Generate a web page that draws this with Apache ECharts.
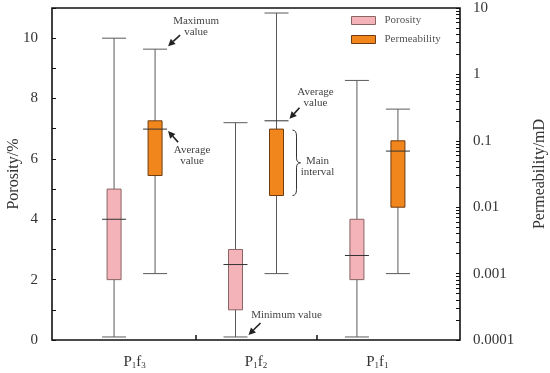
<!DOCTYPE html>
<html>
<head>
<meta charset="utf-8">
<script src="https://cdn.jsdelivr.net/npm/echarts@6/dist/echarts.min.js"></script>
<style>
html,body{margin:0;padding:0;background:#fff;}
#chart{width:550px;height:373px;}
</style>
</head>
<body>
<div id="chart"></div>
<script>
// ---- data ----
const categories = ['P1f3', 'P1f2', 'P1f1'];
const catPositions = [1, 2, 3];
const porosityMin  = [0.1, 0.1, 0.1];
const porosityQ1   = [2.0, 1.0, 2.0];
const porosityQ3   = [5.0, 3.0, 4.0];
const porosityMax  = [10.0, 7.2, 8.6];
const porosityMean = [4.0, 2.5, 2.8];
const permMin  = [0.001, 0.001, 0.001];
const permQ1   = [0.03, 0.015, 0.01];
const permQ3   = [0.2, 0.15, 0.1];
const permMax  = [2.4, 8.4, 0.3];
const permMean = [0.15, 0.2, 0.07];
const porosityTicks = [0, 2, 4, 6, 8, 10];
const permTicks = [0.0001, 0.001, 0.01, 0.1, 1, 10];

// ---- build ----
const SERIF = '"Liberation Serif", "DejaVu Serif", serif';
const PINK = '#f4b3b8', PINK_B = '#8a6464';
const ORANGE = '#f0861c', ORANGE_B = '#6e3c10';
const BOX_W = 14, CAP_W = 24, OFF = 20.5;

const porosityData = catPositions.map((c, i) => [c, porosityMin[i], porosityQ1[i], porosityQ3[i], porosityMax[i], porosityMean[i]]);
const permData = catPositions.map((c, i) => [c, permMin[i], permQ1[i], permQ3[i], permMax[i], permMean[i]]);

const permMinorTicks = [];
for (let d = 0; d < permTicks.length; d++) {
  const base = permTicks[d];
  const n = d === permTicks.length - 1 ? 1 : 9;
  for (let k = 1; k <= n; k++) permMinorTicks.push(+(base * k).toPrecision(2));
}

function makeRender(offset, fill, stroke) {
  return function (params, api) {
    const c = api.value(0);
    const pMin = api.coord([c, api.value(1)]);
    const pQ1 = api.coord([c, api.value(2)]);
    const pQ3 = api.coord([c, api.value(3)]);
    const pMax = api.coord([c, api.value(4)]);
    const pMean = api.coord([c, api.value(5)]);
    const x = pMin[0] + offset;
    const lineStyle = { stroke: '#5a5a5a', lineWidth: 1 };
    return {
      type: 'group',
      children: [
        { type: 'line', shape: { x1: x, y1: pMin[1], x2: x, y2: pMax[1] }, style: lineStyle },
        { type: 'line', shape: { x1: x - CAP_W / 2, y1: pMin[1], x2: x + CAP_W / 2, y2: pMin[1] }, style: lineStyle },
        { type: 'line', shape: { x1: x - CAP_W / 2, y1: pMax[1], x2: x + CAP_W / 2, y2: pMax[1] }, style: lineStyle },
        { type: 'rect', shape: { x: x - BOX_W / 2, y: pQ3[1], width: BOX_W, height: pQ1[1] - pQ3[1] },
          style: { fill: fill, stroke: stroke, lineWidth: 1 } },
        { type: 'line', shape: { x1: x - CAP_W / 2, y1: pMean[1], x2: x + CAP_W / 2, y2: pMean[1] },
          style: { stroke: '#333', lineWidth: 1 } }
      ]
    };
  };
}

const chart = echarts.init(document.getElementById('chart'), null, { renderer: 'canvas' });
const option = {
  animation: false,
  backgroundColor: '#fff',
  grid: { left: 52, right: 90, top: 8, bottom: 33, show: true, borderColor: '#111', borderWidth: 1.6,
    backgroundColor: 'transparent', containLabel: false, outerBoundsMode: 'none' },
  legend: {
    orient: 'vertical', left: 346, top: 10, itemWidth: 24, itemHeight: 8, itemGap: 8, icon: 'rect',
    textStyle: { fontFamily: SERIF, fontSize: 11, color: '#555', padding: [0, 0, 0, 4] },
    data: [
      { name: 'Porosity', itemStyle: { color: PINK, borderColor: PINK_B, borderWidth: 1 } },
      { name: 'Permeability', itemStyle: { color: ORANGE, borderColor: ORANGE_B, borderWidth: 1 } }
    ]
  },
  xAxis: {
    type: 'value', min: 0.32, max: 3.68,
    axisLine: { show: false },
    splitLine: { show: false },
    axisTick: { show: true, inside: true, length: 5, customValues: [1.5, 2.5], lineStyle: { color: '#111', width: 1.5 } },
    axisLabel: {
      customValues: catPositions, margin: 12,
      formatter: function (v) {
        const i = catPositions.indexOf(Math.round(v));
        const s = categories[i] || '';
        return '{n|' + s[0] + '}{s|' + s[1] + '}{n|' + s[2] + '}{s|' + s[3] + '}';
      },
      rich: {
        n: { fontFamily: SERIF, fontSize: 15, color: '#333', lineHeight: 18, verticalAlign: 'bottom' },
        s: { fontFamily: SERIF, fontSize: 9, color: '#333', lineHeight: 18, verticalAlign: 'bottom', padding: [6, 0, 0, 0] }
      }
    }
  },
  yAxis: [
    {
      type: 'value', min: 0, max: 11, interval: 1,
      name: 'Porosity/%', nameLocation: 'middle', nameGap: 30, nameRotate: 90, nameMoveOverlap: false,
      nameTextStyle: { fontFamily: SERIF, fontSize: 16, color: '#333' },
      axisLine: { show: false },
      splitLine: { show: false },
      axisTick: { show: true, inside: true, length: 4, lineStyle: { color: '#111', width: 1 } },
      axisLabel: {
        margin: 14, fontFamily: SERIF, fontSize: 15, color: '#333',
        formatter: function (v) { return porosityTicks.indexOf(v) >= 0 ? String(v) : ''; }
      }
    },
    {
      type: 'log', logBase: 10, min: permTicks[0], max: permTicks[permTicks.length - 1], position: 'right',
      name: 'Permeability/mD', nameLocation: 'middle', nameGap: 72, nameRotate: 90, nameMoveOverlap: false,
      nameTextStyle: { fontFamily: SERIF, fontSize: 16, color: '#333' },
      axisLine: { show: false },
      splitLine: { show: false },
      axisTick: { show: true, inside: true, length: 4, customValues: permMinorTicks, lineStyle: { color: '#111', width: 1 } },
      axisLabel: {
        margin: 13, fontFamily: SERIF, fontSize: 15, color: '#333',
        customValues: permTicks,
        formatter: function (v) { return String(+Number(v).toPrecision(1)); }
      }
    }
  ],
  series: [
    { name: 'Porosity', type: 'custom', xAxisIndex: 0, yAxisIndex: 0, data: porosityData,
      itemStyle: { color: PINK, borderColor: PINK_B }, encode: { x: 0, y: [1, 2, 3, 4, 5] },
      renderItem: makeRender(-OFF, PINK, PINK_B), z: 3 },
    { name: 'Permeability', type: 'custom', xAxisIndex: 0, yAxisIndex: 1, data: permData,
      itemStyle: { color: ORANGE, borderColor: ORANGE_B }, encode: { x: 0, y: [1, 2, 3, 4, 5] },
      renderItem: makeRender(OFF, ORANGE, ORANGE_B), z: 3 }
  ]
};
chart.setOption(option);

// ---- annotations anchored to data via the chart's scales ----
function px(seriesAxis, cat, v) {
  return chart.convertToPixel({ xAxisIndex: 0, yAxisIndex: seriesAxis }, [cat, v]);
}
const TXT = { fontFamily: SERIF, fontSize: 11, fill: '#444', align: 'center', lineHeight: 11 };
function arrow(x1, y1, x2, y2) {
  const ang = Math.atan2(y2 - y1, x2 - x1), L = 7, W = 3.5;
  const bx = x2 - L * Math.cos(ang), by = y2 - L * Math.sin(ang);
  const nx = -Math.sin(ang), ny = Math.cos(ang);
  return [
    { type: 'line', shape: { x1: x1, y1: y1, x2: bx, y2: by }, style: { stroke: '#222', lineWidth: 1.6 } },
    { type: 'polygon', shape: { points: [[x2, y2], [bx + nx * W, by + ny * W], [bx - nx * W, by - ny * W]] }, style: { fill: '#222' } }
  ];
}
function text(x, y, s) {
  return { type: 'text', x: x, y: y, style: Object.assign({ text: s, verticalAlign: 'top' }, TXT) };
}
function curve(x1, y1, cx, cy, x2, y2) {
  return { type: 'bezierCurve', shape: { x1: x1, y1: y1, x2: x2, y2: y2, cpx1: cx, cpy1: cy }, style: { stroke: '#333', lineWidth: 1, fill: null } };
}
function seg(x1, y1, x2, y2) {
  return { type: 'line', shape: { x1: x1, y1: y1, x2: x2, y2: y2 }, style: { stroke: '#333', lineWidth: 1 } };
}
const g = [];
// Maximum value (P1f3 permeability max)
let p = px(1, catPositions[0], permMax[0]);
let cx = p[0] + OFF + CAP_W / 2;
g.push(...arrow(cx + 13, p[1] - 14, cx + 1, p[1] - 3));
g.push(text(cx + 29, p[1] - 34, 'Maximum\nvalue'));
// Average value (P1f3 permeability mean)
p = px(1, catPositions[0], permMean[0]);
cx = p[0] + OFF + CAP_W / 2;
g.push(...arrow(cx + 11, p[1] + 13, cx + 1, p[1] + 2));
g.push(text(cx + 25, p[1] + 16, 'Average\nvalue'));
// Average value (P1f2 permeability mean)
p = px(1, catPositions[1], permMean[1]);
cx = p[0] + OFF + CAP_W / 2;
g.push(...arrow(cx + 11, p[1] - 13, cx + 1, p[1] - 2));
g.push(text(cx + 27, p[1] - 34, 'Average\nvalue'));
// Main interval brace (P1f2 permeability box)
const pt = px(1, catPositions[1], permQ3[1]);
const pb = px(1, catPositions[1], permQ1[1]);
const bx0 = pt[0] + OFF + 16, ytop = pt[1] + 1, ybot = pb[1], ym = (ytop + ybot) / 2;
g.push(curve(bx0, ytop, bx0 + 4, ytop, bx0 + 4, ytop + 6));
g.push(seg(bx0 + 4, ytop + 6, bx0 + 4, ym - 5));
g.push(curve(bx0 + 4, ym - 5, bx0 + 4, ym, bx0 + 8, ym));
g.push(curve(bx0 + 8, ym, bx0 + 4, ym, bx0 + 4, ym + 5));
g.push(seg(bx0 + 4, ym + 5, bx0 + 4, ybot - 6));
g.push(curve(bx0 + 4, ybot - 6, bx0 + 4, ybot, bx0, ybot));
g.push(text(bx0 + 25, ym - 7, 'Main\ninterval'));
// Minimum value (P1f2 porosity min)
p = px(0, catPositions[1], porosityMin[1]);
cx = p[0] - OFF + CAP_W / 2;
g.push(...arrow(cx + 13, p[1] - 14, cx + 1, p[1] - 2));
g.push(text(cx + 39, p[1] - 27, 'Minimum value'));
chart.setOption({ graphic: g.map(e => Object.assign({ z: 10 }, e)) });
</script>
</body>
</html>
